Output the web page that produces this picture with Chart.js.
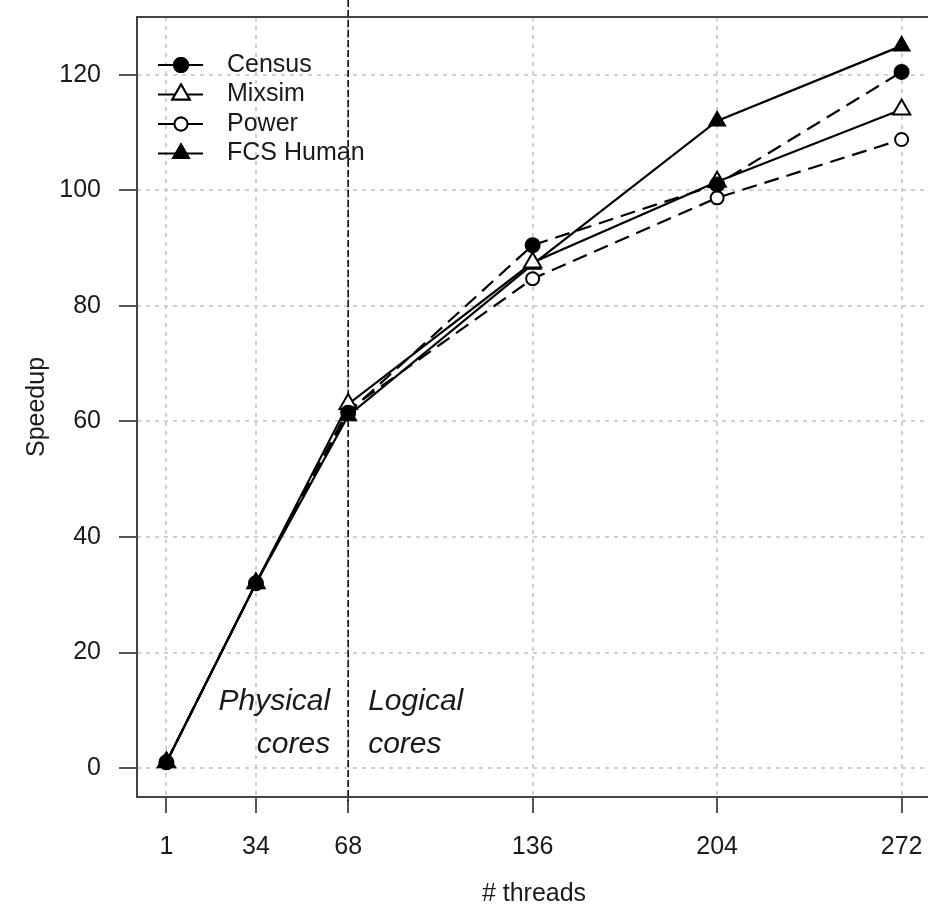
<!DOCTYPE html>
<html>
<head>
<meta charset="utf-8">
<script src="https://cdn.jsdelivr.net/npm/chart.js@4/dist/chart.umd.min.js"></script>
<style>
  html, body { margin: 0; padding: 0; background: #fff; overflow: hidden; }
  #wrap { width: 940px; height: 909px; }
  canvas { display: block; }
</style>
</head>
<body>
<div id="wrap"><canvas id="speedup_chart" width="940" height="909" style="width:940px;height:909px"></canvas></div>
<script>
// thread counts and measured speedups
var threads = [1, 34, 68, 136, 204, 272];
var census = [1, 32, 61.5, 90.5, 101, 120.5];
var mixsim = [1, 32, 63, 87.5, 101.5, 114];
var power = [1, 32, 62, 84.7, 98.7, 108.8];
var fcsHuman = [1, 32, 61, 87.2, 112, 125];

var xTicks = [1, 34, 68, 136, 204, 272];
var yTicks = [0, 20, 40, 60, 80, 100, 120];
var coreSplit = 68;

var FONT = "'Liberation Sans', Arial, Helvetica, sans-serif";
var INK = '#1a1a1a';

function pts(ys) {
  return threads.map(function (t, i) { return { x: t, y: ys[i] }; });
}

// R-like padding of 4% around the data range
var xMin = 1 - 0.04 * 271, xMax = 272 + 0.04 * 271;
var yMin = -5, yMax = 130;

function series(label, ys, dash, style, fill, radius) {
  return {
    label: label,
    data: pts(ys),
    borderColor: '#000',
    borderWidth: 2.2,
    borderDash: dash,
    tension: 0,
    fill: false,
    pointStyle: style,
    pointRadius: radius,
    pointHoverRadius: radius,
    pointBorderWidth: 2,
    pointBorderColor: '#000',
    pointBackgroundColor: fill
  };
}

// keep the plot box fixed: no extra room for edge tick labels
function noPadding(scale) {
  scale.paddingTop = 0;
  scale.paddingBottom = 0;
  scale.paddingLeft = 0;
  scale.paddingRight = 0;
}

// legend with a line through each marker, no frame
var legendPlugin = {
  id: 'lineLegend',
  afterDraw: function (chart) {
    var ctx = chart.ctx;
    var x0 = 158, x1 = 203, px = 181, tx = 227, y0 = 65, dy = 29.5;
    ctx.save();
    chart.data.datasets.forEach(function (ds, i) {
      var y = y0 + i * dy;
      ctx.setLineDash([]);
      ctx.strokeStyle = '#000';
      ctx.lineWidth = 2;
      ctx.beginPath();
      ctx.moveTo(x0, y);
      ctx.lineTo(x1, y);
      ctx.stroke();
      Chart.helpers.drawPoint(ctx, {
        pointStyle: ds.pointStyle,
        radius: ds.pointRadius,
        borderWidth: ds.pointBorderWidth,
        rotation: 0
      }, px, y);
      ctx.fillStyle = ds.pointBackgroundColor;
      ctx.strokeStyle = '#000';
      ctx.lineWidth = ds.pointBorderWidth;
      ctx.fill();
      ctx.stroke();
      ctx.fillStyle = INK;
      ctx.font = '25px ' + FONT;
      ctx.textAlign = 'left';
      ctx.textBaseline = 'middle';
      ctx.fillText(ds.label, tx, y);
    });
    ctx.restore();
  }
};

// plot frame, the physical/logical split line and its labels
var framePlugin = {
  id: 'frame',
  beforeDatasetsDraw: function (chart) {
    var ctx = chart.ctx;
    var xs = chart.scales.x.getPixelForValue(coreSplit);
    ctx.save();
    ctx.strokeStyle = '#000';
    ctx.lineWidth = 1.5;
    ctx.setLineDash([7, 3]);
    ctx.beginPath();
    ctx.moveTo(xs, 0);
    ctx.lineTo(xs, chart.chartArea.bottom + 4);
    ctx.stroke();
    ctx.setLineDash([]);

    ctx.fillStyle = INK;
    ctx.font = 'italic 30px ' + FONT;
    ctx.textBaseline = 'alphabetic';
    ctx.textAlign = 'right';
    ctx.fillText('Physical', xs - 18, 710);
    ctx.fillText('cores', xs - 18, 753);
    ctx.textAlign = 'left';
    ctx.fillText('Logical', xs + 20, 710);
    ctx.fillText('cores', xs + 20, 753);
    ctx.restore();
  },
  afterDraw: function (chart) {
    var a = chart.chartArea, ctx = chart.ctx;
    ctx.save();
    ctx.strokeStyle = '#444';
    ctx.lineWidth = 2;
    ctx.setLineDash([]);
    ctx.strokeRect(a.left, a.top, a.right - a.left, a.bottom - a.top);
    ctx.restore();
  }
};

var ctx = document.getElementById('speedup_chart').getContext('2d');
var speedup_chart = new Chart(ctx, {
  type: 'line',
  data: {
    datasets: [
      series('Census', census, [15, 8], 'circle', '#000', 7),
      series('Mixsim', mixsim, [], 'triangle', '#fff', 10),
      series('Power', power, [15, 8], 'circle', '#fff', 6.5),
      series('FCS Human', fcsHuman, [], 'triangle', '#000', 9)
    ]
  },
  options: {
    responsive: false,
    animation: false,
    layout: { autoPadding: false, padding: { top: 17, right: 9, left: 0, bottom: 0 } },
    plugins: {
      legend: { display: false },
      tooltip: { enabled: false }
    },
    scales: {
      x: {
        type: 'linear',
        min: xMin,
        max: xMax,
        afterBuildTicks: function (scale) {
          scale.ticks = xTicks.map(function (v) { return { value: v }; });
        },
        afterFit: function (scale) { scale.height = 112; noPadding(scale); },
        ticks: {
          autoSkip: false,
          maxRotation: 0,
          padding: 19,
          color: INK,
          font: { family: FONT, size: 25 },
          callback: function (v) { return String(v); }
        },
        grid: {
          color: '#cfcfcf',
          lineWidth: 2,
          drawTicks: true,
          tickLength: 16,
          tickColor: '#555',
          tickWidth: 2,
          tickBorderDash: []
        },
        border: { display: false, dash: [4, 5] },
        title: {
          display: true,
          text: '# threads',
          color: INK,
          font: { family: FONT, size: 25 },
          padding: { top: 0, bottom: 0 }
        }
      },
      y: {
        type: 'linear',
        min: yMin,
        max: yMax,
        afterBuildTicks: function (scale) {
          scale.ticks = yTicks.map(function (v) { return { value: v }; });
        },
        afterFit: function (scale) { scale.width = 137; noPadding(scale); },
        ticks: {
          padding: 18,
          color: INK,
          font: { family: FONT, size: 25 },
          callback: function (v) { return String(v); }
        },
        grid: {
          color: '#cfcfcf',
          lineWidth: 2,
          drawTicks: true,
          tickLength: 18,
          tickColor: '#555',
          tickWidth: 2,
          tickBorderDash: []
        },
        border: { display: false, dash: [4, 5] },
        title: {
          display: true,
          text: 'Speedup',
          color: INK,
          font: { family: FONT, size: 25 },
          padding: { top: 22, bottom: 0 }
        }
      }
    }
  },
  plugins: [framePlugin, legendPlugin]
});
</script>
</body>
</html>
